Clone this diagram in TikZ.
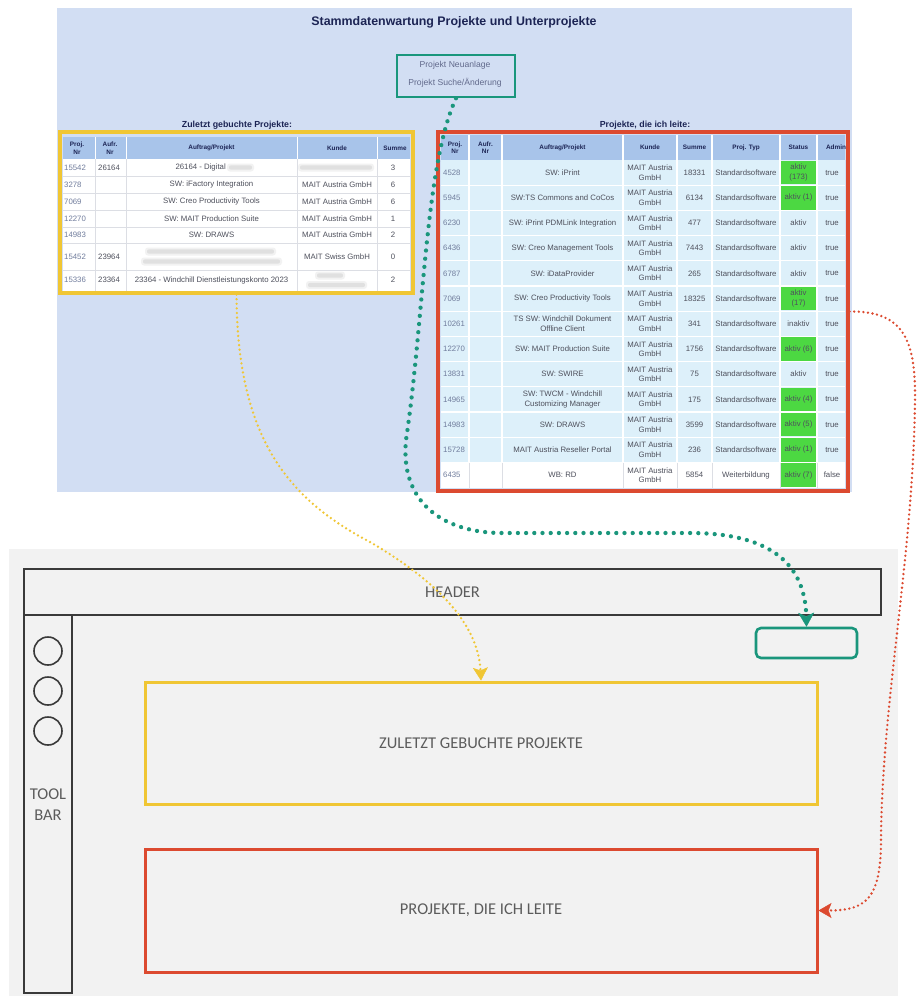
\documentclass[tikz,border=0pt]{standalone}
\usepackage{fontspec}
\setmainfont{Liberation Sans}
\newfontfamily\wirefont{Carlito}
\usetikzlibrary{arrows.meta,fit}

% palette
\definecolor{pagebg}{RGB}{210,222,243}
\definecolor{thead}{RGB}{168,196,234}
\definecolor{rowcyan}{RGB}{221,240,250}
\definecolor{okgreen}{RGB}{76,216,66}
\definecolor{navy}{RGB}{28,36,84}
\definecolor{celltext}{RGB}{78,80,92}
\definecolor{nrtext}{RGB}{112,124,156}
\definecolor{linkgray}{RGB}{98,106,140}
\definecolor{hiyellow}{RGB}{240,198,52}
\definecolor{hired}{RGB}{220,74,48}
\definecolor{hiteal}{RGB}{26,150,124}
\definecolor{wirebg}{RGB}{242,242,242}
\definecolor{wireline}{RGB}{58,58,58}
\definecolor{wiretext}{RGB}{92,92,92}
\definecolor{gridgray}{RGB}{220,222,228}

% blurred (unreadable) cell content
\newcommand\smudge[3]{%
  \fill[gray!45,opacity=.22,rounded corners=3pt] (#1-2,#3-4) rectangle (#2+2,#3+4);
  \fill[gray!55,opacity=.30,rounded corners=2pt] (#1,#3-2.2) rectangle (#2,#3+2.2);
}

\begin{document}
\begin{tikzpicture}[x=1pt,y=-1pt,
  ttl/.style={font=\bfseries\fontsize{12.4}{14}\selectfont, text=navy, inner sep=0pt},
  sect/.style={font=\bfseries\fontsize{8.8}{10}\selectfont, text=navy, inner sep=0pt},
  linktxt/.style={font=\fontsize{8.6}{10}\selectfont, text=linkgray, inner sep=0pt},
  th/.style={font=\bfseries\fontsize{6.4}{7.6}\selectfont, text=navy, inner sep=0pt, align=center},
  td/.style={font=\fontsize{7.8}{9.4}\selectfont, text=celltext, inner sep=0pt, align=center},
  tdl/.style={td, anchor=west, text=nrtext},
  wiretxt/.style={font=\wirefont\fontsize{16.5}{21}\selectfont, text=wiretext, inner sep=0pt, align=center},
  wirebox/.style={draw=wireline, line width=1.8pt, inner sep=0pt},
  frame/.style={draw=#1, line width=3pt, inner sep=0pt},
  flowteal/.style={draw=hiteal, line width=4.3pt, line cap=round, dash pattern=on 0pt off 8.2pt,
    -{Stealth[length=14pt,width=16pt,inset=3.5pt,line width=0.5pt]}},
  flowyellow/.style={draw=hiyellow, line width=2.6pt, line cap=round, dash pattern=on 0pt off 4.6pt,
    -{Stealth[length=13pt,width=15pt,inset=3pt,line width=0.5pt]}},
  flowred/.style={draw=hired, line width=2.6pt, line cap=round, dash pattern=on 0pt off 4.6pt,
    -{Stealth[length=13pt,width=15pt,inset=3pt,line width=0.5pt]}},
]
\fill[white] (0,0) rectangle (917,996);
\useasboundingbox (0,0) rectangle (917,996);

% ---------------- screen capture of the web page ----------------
\fill[pagebg] (57,8) rectangle (852,492);
\node[ttl] (title) at (454,22) {Stammdatenwartung Projekte und Unterprojekte};

\node[frame=hiteal, line width=2.5pt, fit={(397,55) (515,97)}] (searchbox) {};
\node[linktxt] (newproj) at (455,65) {Projekt Neuanlage};
\node[linktxt] (findproj) at (455,83) {Projekt Suche/Änderung};

\node[sect] (recenttitle) at (237,125) {Zuletzt gebuchte Projekte:};
\node[sect] (leadtitle) at (645,125) {Projekte, die ich leite:};

% left table: recently booked projects
\begin{scope}
  \clip (63,135) rectangle (410,291);
  \fill[thead] (63,137) rectangle (410,159);
  \fill[white] (63,159) rectangle (410,291);
  \foreach \gx in {95,126,297,377} {
    \draw[white, line width=1pt] (\gx,137) -- (\gx,159);
    \draw[gridgray, line width=0.7pt] (\gx,159) -- (\gx,291);
  }
  \foreach \gy in {176,193,210,227,243,270}
    \draw[gridgray, line width=0.7pt] (63,\gy) -- (410,\gy);
  \node[th] (lh-nr) at (77,148) {Proj.\\Nr};
  \node[th] (lh-aufr) at (110,148) {Aufr.\\Nr};
  \node[th] (lh-proj) at (211.5,148) {Auftrag/Projekt};
  \node[th] (lh-kunde) at (337,148) {Kunde};
  \node[th] (lh-sum) at (395,148) {Summe};
  % row 1
  \node[tdl] (l1-nr) at (64,167.5) {15542};
  \node[td, anchor=west] (l1-aufr) at (98,167.5) {26164};
  \node[td, anchor=east] (l1-proj) at (226,167.5) {26164 - Digital};
  \smudge{229}{252}{167.5}
  \smudge{300}{372}{167.5}
  \node[td] (l1-sum) at (393,167.5) {3};
  % rows 2 to 5
  \foreach \nr/\proj/\sm/\yc [count=\k from 2] in {
      3278/SW: iFactory Integration/6/184.5,
      7069/SW: Creo Productivity Tools/6/201.5,
      12270/SW: MAIT Production Suite/1/218.5,
      14983/SW: DRAWS/2/235} {
    \node[tdl] (l\k-nr) at (64,\yc) {\nr};
    \node[td] (l\k-proj) at (211.5,\yc) {\proj};
    \node[td] (l\k-kunde) at (337,\yc) {MAIT Austria GmbH};
    \node[td] (l\k-sum) at (393,\yc) {\sm};
  }
  % row 6
  \node[tdl] (l6-nr) at (64,256.5) {15452};
  \node[td, anchor=west] (l6-aufr) at (98,256.5) {23964};
  \smudge{147}{274}{251.5}
  \smudge{143}{280}{261.5}
  \node[td] (l6-kunde) at (337,256.5) {MAIT Swiss GmbH};
  \node[td] (l6-sum) at (393,256.5) {0};
  % row 7
  \node[tdl] (l7-nr) at (64,280) {15336};
  \node[td, anchor=west] (l7-aufr) at (98,280) {23364};
  \node[td] (l7-proj) at (211.5,280) {23364 - Windchill Dienstleistungskonto 2023};
  \smudge{317}{343}{275.5}
  \smudge{308}{365}{285}
  \node[td] (l7-sum) at (393,280) {2};
\end{scope}
\node[frame=hiyellow, line width=3.2pt, fit={(60,132) (413,293)}] (recent) {};

% right table: projects I lead
\begin{scope}
  \clip (441,135) rectangle (845,488);
  \fill[thead] (441,135) rectangle (845,160);
  \fill[rowcyan] (441,160) rectangle (845,462.4);
  \fill[white] (441,462.4) rectangle (845,488);
  \foreach \gx in {469,502,623,677,712,780,817} {
    \draw[white, line width=1.2pt] (\gx,135) -- (\gx,462.4);
    \draw[gridgray, line width=0.7pt] (\gx,462.4) -- (\gx,488);
  }
  \foreach \k in {1,...,12}
    \draw[white, line width=1.2pt] (441,160+\k*25.2) -- (845,160+\k*25.2);
  \node[th] (rh-nr) at (455,147.5) {Proj.\\Nr};
  \node[th] (rh-aufr) at (485.5,147.5) {Aufr.\\Nr};
  \node[th] (rh-proj) at (562.5,147.5) {Auftrag/Projekt};
  \node[th] (rh-kunde) at (650,147.5) {Kunde};
  \node[th] (rh-sum) at (694.5,147.5) {Summe};
  \node[th] (rh-typ) at (746,147.5) {Proj. Typ};
  \node[th] (rh-stat) at (798.5,147.5) {Status};
  \node[th] (rh-adm) at (836,147.5) {Admin};
  \foreach \nr/\proj/\sm/\typ/\stat/\ok/\adm [count=\i] in {
      4528/SW: iPrint/18331/Standardsoftware/{aktiv\\(173)}/1/true,
      5945/SW:TS Commons and CoCos/6134/Standardsoftware/aktiv (1)/1/true,
      6230/SW: iPrint PDMLink Integration/477/Standardsoftware/aktiv/0/true,
      6436/SW: Creo Management Tools/7443/Standardsoftware/aktiv/0/true,
      6787/SW: iDataProvider/265/Standardsoftware/aktiv/0/true,
      7069/SW: Creo Productivity Tools/18325/Standardsoftware/{aktiv\\(17)}/1/true,
      10261/{TS SW: Windchill Dokument\\Offline Client}/341/Standardsoftware/inaktiv/0/true,
      12270/SW: MAIT Production Suite/1756/Standardsoftware/aktiv (6)/1/true,
      13831/SW: SWIRE/75/Standardsoftware/aktiv/0/true,
      14965/{SW: TWCM - Windchill\\Customizing Manager}/175/Standardsoftware/aktiv (4)/1/true,
      14983/SW: DRAWS/3599/Standardsoftware/aktiv (5)/1/true,
      15728/MAIT Austria Reseller Portal/236/Standardsoftware/aktiv (1)/1/true,
      6435/WB: RD/5854/Weiterbildung/aktiv (7)/1/false} {
    \pgfmathsetmacro\yc{160+(\i-0.5)*25.2}
    \pgfmathsetmacro\yt{160+(\i-1)*25.2+0.8}
    \pgfmathsetmacro\yb{160+\i*25.2-0.8}
    \ifnum\ok=1 \fill[okgreen] (781,\yt) rectangle (816,\yb); \fi
    \node[tdl] (r\i-nr) at (443,\yc) {\nr};
    \node[td] (r\i-proj) at (562.5,\yc) {\proj};
    \node[td] (r\i-kunde) at (650,\yc) {MAIT Austria\\GmbH};
    \node[td] (r\i-sum) at (694.5,\yc) {\sm};
    \node[td] (r\i-typ) at (746,\yc) {\typ};
    \node[td] (r\i-stat) at (798.5,\yc) {\stat};
    \node[td] (r\i-adm) at (832,\yc) {\adm};
  }
\end{scope}
\node[frame=hired, line width=3.2pt, fit={(438,132) (848,491)}] (leadtable) {};

% ---------------- wireframe of the new layout ----------------
\fill[wirebg] (9,549) rectangle (898,996);
\node[wirebox, fit={(24,569) (881,615)}] (header) {};
\node[wiretxt] (headerlabel) at (header.center) {HEADER};
\node[wirebox, fit={(24,615) (72,993)}] (toolbar) {};
\foreach \cy [count=\n] in {651,691,731}
  \node[circle, draw=wireline, line width=1.6pt, minimum size=28pt, inner sep=0pt] (tool\n) at (48,\cy) {};
\node[wiretxt] (toollabel) at (48,805) {TOOL\\BAR};
\node[draw=hiteal, line width=2.6pt, rounded corners=5pt, inner sep=0pt, fit={(756,628) (857,658)}] (slot) {};
\node[frame=hiyellow, fit={(145,682) (817,804)}] (recentzone) {};
\node[wiretxt] (recentlabel) at (recentzone.center) {ZULETZT GEBUCHTE PROJEKTE};
\node[frame=hired, fit={(145,849) (817,972)}] (leadzone) {};
\node[wiretxt] (leadlabel) at (leadzone.center) {PROJEKTE, DIE ICH LEITE};

% ---------------- where each part moves to ----------------
\draw[flowteal] (searchbox.south)
  .. controls (425,165) and (424,320) .. (406,440)
  .. controls (400,500) and (440,532) .. (500,533)
  -- (690,533)
  .. controls (765,533) and (805,560) .. (slot.north);
\draw[flowyellow] (recent.south)
  .. controls (237,440) and (290,500) .. (370,542)
  .. controls (430,577) and (478,620) .. (recentzone.north);
\draw[flowred] (leadtable.east)
  .. controls (900,311) and (916,335) .. (915,400)
  .. controls (913,560) and (882,700) .. (881,840)
  .. controls (881,900) and (865,910.5) .. (leadzone.east);
\end{tikzpicture}
\end{document}
